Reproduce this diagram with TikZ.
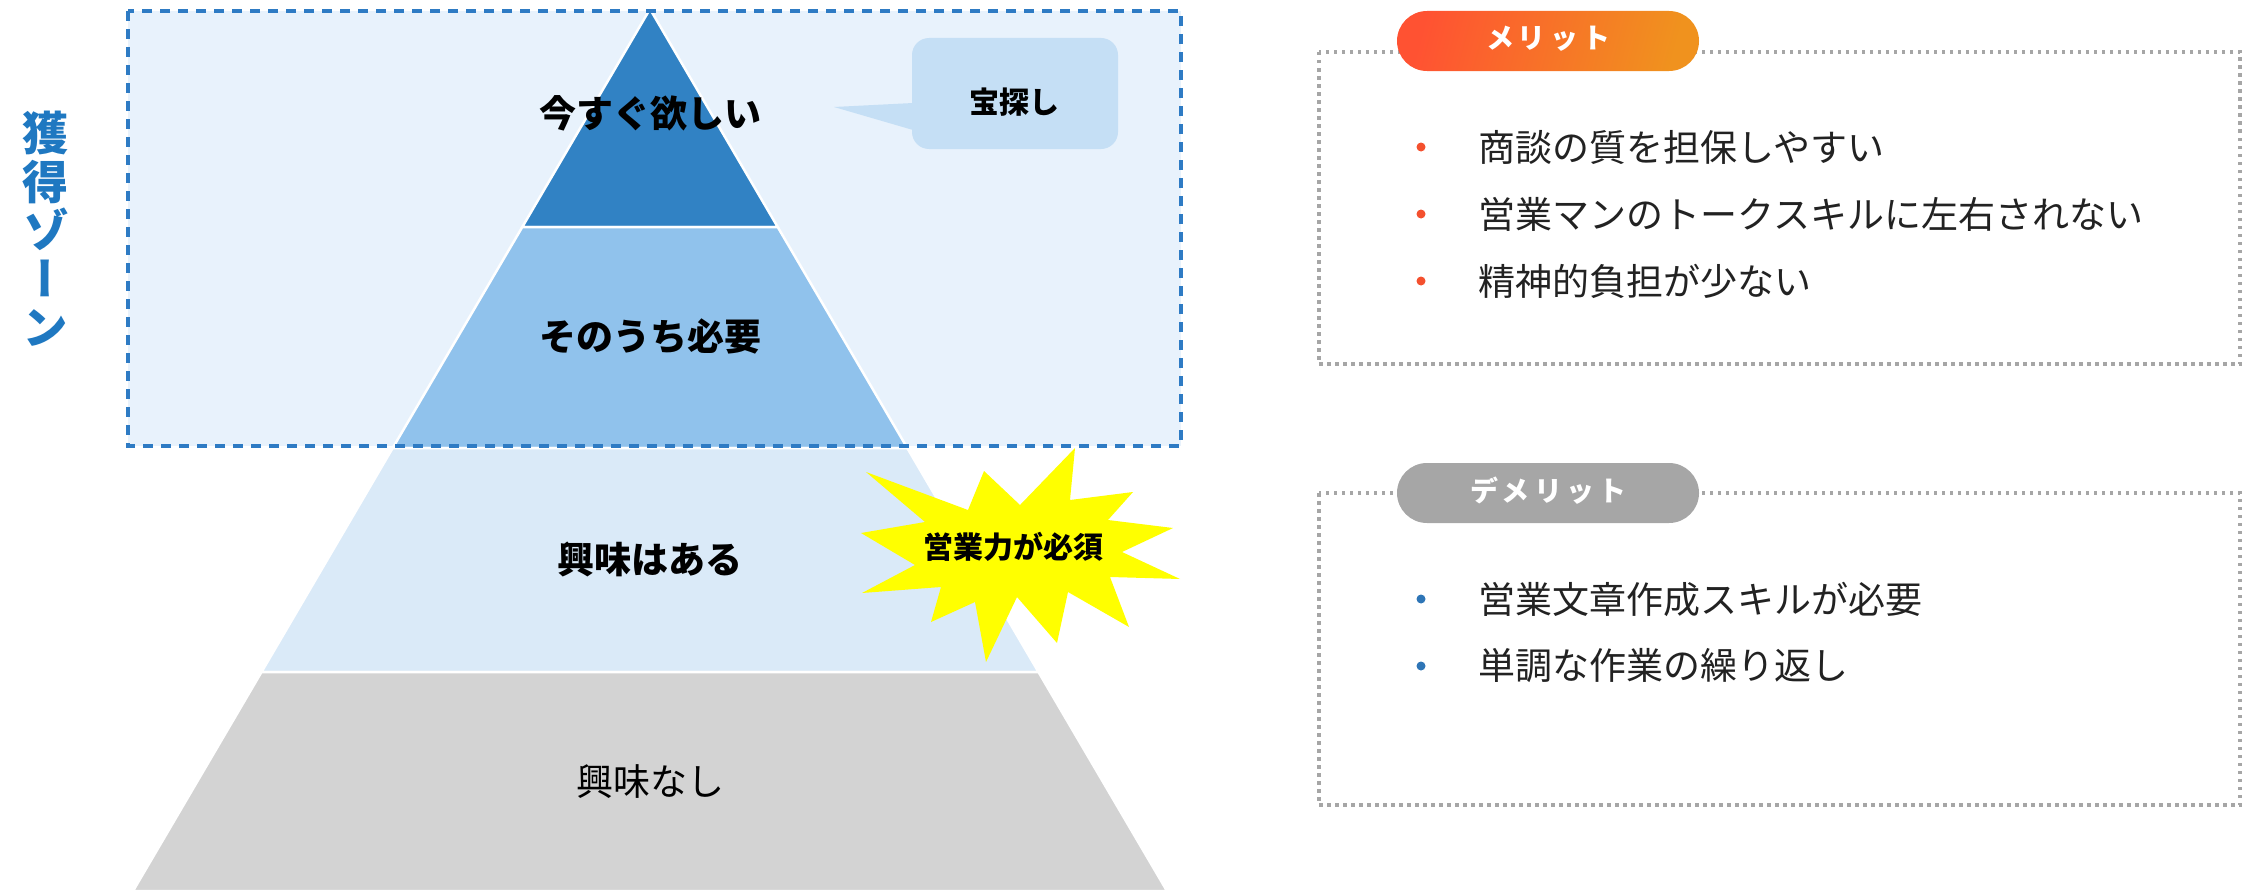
\documentclass[tikz,border=0pt]{standalone}
\usepackage{fontspec}
\setmainfont{Noto Sans CJK JP}
\newfontfamily\jpv[RawFeature=+vert]{Noto Sans CJK JP}
\definecolor{zonefill}{HTML}{E8F2FC}
\definecolor{zoneline}{HTML}{2E7BC4}
\definecolor{zonetext}{HTML}{1F78C1}
\definecolor{tierA}{HTML}{3182C4}
\definecolor{tierB}{HTML}{90C2EC}
\definecolor{tierC}{HTML}{DAEAF8}
\definecolor{tierD}{HTML}{D3D3D3}
\definecolor{callfill}{HTML}{C5DFF5}
\definecolor{burst}{HTML}{FFFF00}
\definecolor{boxline}{HTML}{A6A6A6}
\definecolor{orangeA}{HTML}{FF5232}
\definecolor{orangeB}{HTML}{F0921E}
\definecolor{pillgray}{HTML}{A6A6A6}
\definecolor{dotred}{HTML}{F4502E}
\definecolor{dotblue}{HTML}{2E75B6}
\definecolor{bodytext}{HTML}{222222}
\tikzset{
  tier/.style={draw=white, line width=2.5pt},
  tierlabel/.style={font=\bfseries\fontsize{37}{42}\selectfont, text=black, inner sep=0pt},
  itembox/.style={draw=boxline, line width=3.5pt, dash pattern=on 3.5pt off 4.5pt},
  pilltext/.style={font=\bfseries\fontsize{28}{32}\selectfont, text=white, inner sep=0pt},
  itemtext/.style={font=\fontsize{37}{42}\selectfont, text=bodytext, anchor=west, inner sep=0pt},
  bulletdot/.style={circle, inner sep=0pt, minimum size=9pt},
}
\begin{document}
\begin{tikzpicture}[x=1pt,y=-1pt]
\useasboundingbox (0,0) rectangle (2250,891);
% acquisition zone
\fill[zonefill] (128,11) rectangle (1181,446);
% pyramid
\filldraw[tier, fill=tierA] (650,9) -- (777.7,227) -- (522.3,227) -- cycle;
\filldraw[tier, fill=tierB] (522.3,227) -- (777.7,227) -- (907.3,448) -- (392.7,448) -- cycle;
\filldraw[tier, fill=tierC] (392.7,448) -- (907.3,448) -- (1038.5,672) -- (261.5,672) -- cycle;
\filldraw[tier, fill=tierD] (261.5,672) -- (1038.5,672) -- (1167,891) -- (133,891) -- cycle;
\draw[zoneline, line width=3.3pt, dash pattern=on 10pt off 8pt] (128,11) rectangle (1181,446);
\node[tierlabel] (t1) at (650,113) {今すぐ欲しい};
\node[tierlabel] (t2) at (650,336) {そのうち必要};
\node[tierlabel] (t3) at (650,559) {興味はある};
\node[tierlabel, font=\fontsize{37}{42}\selectfont] (t4) at (650,782) {興味なし};
% zone label
\node[font=\jpv\bfseries\fontsize{46}{48.5}\selectfont, text=zonetext, align=center, inner sep=0pt] (zone) at (45,229) {獲\\得\\ゾ\\ー\\ン};
% callout
\fill[callfill, rounded corners=17pt] (912,38) rectangle (1118,149);
\fill[callfill] (913,103) -- (834,107) -- (913,130) -- cycle;
\node[font=\bfseries\fontsize{30}{34}\selectfont, inner sep=0pt] (call) at (1014,102) {宝探し};
% burst
\fill[burst] (1075,448) -- (1070,500) -- (1133,492) -- (1108,520) -- (1173,528) -- (1122,552)
  -- (1180,579) -- (1110,577) -- (1129,627) -- (1068,592) -- (1057,643) -- (1017,597)
  -- (986,662) -- (975,602) -- (931,622) -- (941,587) -- (862,593) -- (915,565)
  -- (861,533) -- (925,522) -- (866,472) -- (968,510) -- (984,471) -- (1020,505) -- cycle;
\node[font=\bfseries\fontsize{30}{34}\selectfont, inner sep=0pt] (must) at (1013,547) {営業力が必須};
% merit box
\draw[itembox] (1319,52) rectangle (2240,364);
\shade[left color=orangeA, right color=orangeB, shading angle=75, rounded corners=30pt] (1397,11) rectangle (1699,71);
\node[pilltext] (merit) at (1548,39) {メ\kern4pt リ\kern4pt ッ\kern4pt ト};
\node[bulletdot, fill=dotred] (m1d) at (1421,147) {};
\node[bulletdot, fill=dotred] (m2d) at (1421,214) {};
\node[bulletdot, fill=dotred] (m3d) at (1421,281) {};
\node[itemtext] (m1) at (1478,147) {商談の質を担保しやすい};
\node[itemtext] (m2) at (1478,214) {営業マンのトークスキルに左右されない};
\node[itemtext] (m3) at (1478,281) {精神的負担が少ない};
% demerit box
\draw[itembox] (1319,493) rectangle (2240,805);
\fill[pillgray, rounded corners=30pt] (1397,463) rectangle (1699,523);
\node[pilltext] (demerit) at (1548,491) {デ\kern4pt メ\kern4pt リ\kern4pt ッ\kern4pt ト};
\node[bulletdot, fill=dotblue] (d1d) at (1421,599) {};
\node[bulletdot, fill=dotblue] (d2d) at (1421,666) {};
\node[itemtext] (d1) at (1478,599) {営業文章作成スキルが必要};
\node[itemtext] (d2) at (1478,666) {単調な作業の繰り返し};
\end{tikzpicture}
\end{document}
